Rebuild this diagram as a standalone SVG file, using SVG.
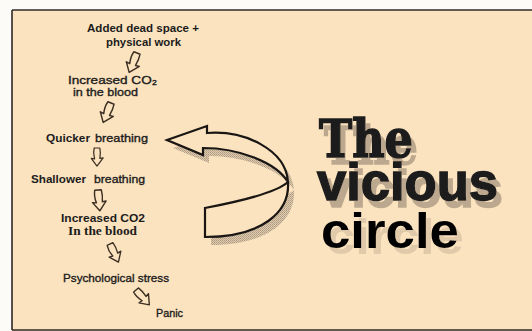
<svg xmlns="http://www.w3.org/2000/svg" width="532" height="331" viewBox="0 0 532 331">
<defs>
<pattern id="dots" width="2" height="2" patternUnits="userSpaceOnUse">
<rect width="2" height="2" fill="#d9c3a3"/>
<rect width="1" height="1" fill="#8f8272"/>
<rect x="1" y="1" width="1" height="1" fill="#a3947f"/>
</pattern>
<filter id="sh" x="-10%" y="-10%" width="130%" height="150%">
<feOffset in="SourceAlpha" dx="5" dy="7" result="o"/>
<feFlood flood-color="#a08e78" flood-opacity="0.7"/>
<feComposite in2="o" operator="in" result="s"/>
<feMerge><feMergeNode in="s"/><feMergeNode in="SourceGraphic"/></feMerge>
</filter>
<filter id="sh2" x="-10%" y="-10%" width="130%" height="150%">
<feOffset in="SourceAlpha" dx="5" dy="6" result="o"/>
<feFlood flood-color="#a08e78" flood-opacity="0.3"/>
<feComposite in2="o" operator="in" result="s"/>
<feMerge><feMergeNode in="s"/><feMergeNode in="SourceGraphic"/></feMerge>
</filter>
<path id="sarr" d="M-3,0 L3,0 C4,5 3.5,8 3,11 L6.5,10.5 L0,19 L-6,11 L-2.5,11.5 C-3.5,8 -4,4 -3,0 Z"/>
<path id="big" d="M167,140 L207,126 L207,133 C245,130 286,150 288,182 C290,212 262,237 205,237 L205,208 C242,201 276,193 288,182 C276,162 238,148 203,148 L203,155 Z"/>
</defs>
<style>
.t{font-family:"Liberation Sans",Arial,sans-serif;fill:#1c1c1c;font-size:11.5px}
.b{font-weight:bold}
.m{stroke:#1c1c1c;stroke-width:0.35}
.sa{fill:#fbe3bf;stroke:#3b2e22;stroke-width:1.3;stroke-linejoin:round}
.edge{fill:none;stroke:#2e2a28;stroke-width:1.6}
.ttl{font-family:"Liberation Sans",Arial,sans-serif;font-weight:bold}
</style>
<rect width="532" height="331" fill="#fdfbf8"/>
<rect x="12" y="10" width="520" height="321" fill="#fbe3bf"/>
<g id="frame" class="edge">
<line x1="12" y1="10" x2="532" y2="10"/>
<line x1="12" y1="10" x2="12" y2="330"/>
<line x1="12" y1="330" x2="532" y2="330"/>
</g>

<g id="connectors">
<use href="#big" transform="translate(6,8)" fill="url(#dots)" opacity="0.75"/>
<use href="#big" fill="#fbe3bf" stroke="#1a1614" stroke-width="2.2" stroke-linejoin="miter"/>
<use href="#sarr" class="sa" transform="translate(137,53) rotate(22) scale(1.1)"/>
<use href="#sarr" class="sa" transform="translate(111,103) rotate(22) scale(1.1)"/>
<use href="#sarr" class="sa" transform="translate(97,148) scale(0.95)"/>
<use href="#sarr" class="sa" transform="translate(98,190) rotate(-5) scale(1.1)"/>
<use href="#sarr" class="sa" transform="translate(110,244) rotate(-25) scale(1.05)"/>
<use href="#sarr" class="sa" transform="translate(136,290) rotate(-42) scale(1.05)"/>
</g>

<g id="n1"><text class="t b" x="87" y="32" font-size="10.5" textLength="112" lengthAdjust="spacingAndGlyphs">Added dead space +</text>
<text class="t b" x="106" y="46" font-size="10.5" textLength="75" lengthAdjust="spacingAndGlyphs">physical work</text></g>
<g id="n2"><text class="t m" x="68" y="84" font-size="12.5" textLength="89" lengthAdjust="spacingAndGlyphs">Increased CO₂</text>
<text class="t m" x="73" y="96" font-size="12.5" textLength="65" lengthAdjust="spacingAndGlyphs">in the blood</text></g>
<g id="n3"><text class="t" y="142"><tspan class="b" x="46" textLength="44" lengthAdjust="spacingAndGlyphs">Quicker</tspan><tspan class="m" x="95" textLength="53" lengthAdjust="spacingAndGlyphs">breathing</tspan></text></g>
<g id="n4"><text class="t" y="183"><tspan class="b" x="31" textLength="55" lengthAdjust="spacingAndGlyphs">Shallower</tspan><tspan class="m" x="94" textLength="51" lengthAdjust="spacingAndGlyphs">breathing</tspan></text></g>
<g id="n5"><text class="t b" x="61" y="222" font-size="12" textLength="84" lengthAdjust="spacingAndGlyphs">Increased CO2</text>
<text class="t b" x="68" y="235" font-size="12.5" style="font-family:'Liberation Serif','Times New Roman',serif" textLength="69" lengthAdjust="spacingAndGlyphs">In the blood</text></g>
<g id="n6"><text class="t m" x="63" y="282" textLength="106" lengthAdjust="spacingAndGlyphs">Psychological stress</text></g>
<g id="n7"><text class="t m" x="156" y="317" textLength="27" lengthAdjust="spacingAndGlyphs">Panic</text></g>

<g id="title">
<text x="319" y="157" font-family="'DejaVu Serif',serif" font-weight="bold" font-size="52" textLength="94" lengthAdjust="spacingAndGlyphs" fill="#1e1e1e" stroke="#1e1e1e" stroke-width="1.6" filter="url(#sh)">The</text>
<text class="ttl" x="317" y="200" font-size="51" textLength="181" lengthAdjust="spacingAndGlyphs" fill="#1e1e1e" stroke="#1e1e1e" stroke-width="1.4" filter="url(#sh)">vicious</text>
<text class="ttl" x="321" y="248" font-size="50" textLength="138" lengthAdjust="spacingAndGlyphs" fill="#050505" filter="url(#sh2)">circle</text>
</g>
</svg>
